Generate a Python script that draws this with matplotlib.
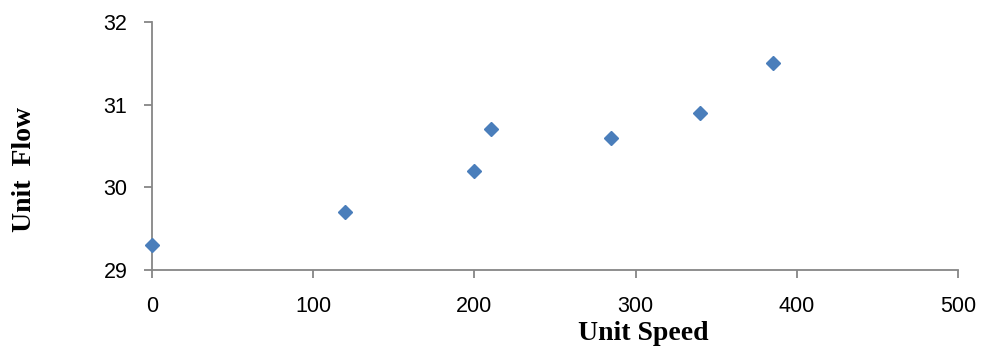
import matplotlib
matplotlib.use("Agg")
import matplotlib.pyplot as plt

# Measured unit speed vs unit flow
unit_speed = [0, 120, 200, 210, 285, 340, 385]
unit_flow = [29.3, 29.7, 30.2, 30.7, 30.6, 30.9, 31.5]

x_ticks = [0, 100, 200, 300, 400, 500]
y_ticks = [29, 30, 31, 32]

fig = plt.figure(figsize=(9.84, 3.54), dpi=100)
ax = fig.add_axes([152 / 984, 84 / 354, 806 / 984, 248 / 354])

ax.plot(unit_speed, unit_flow, linestyle="none", marker="D", markersize=7.6,
        color="#4A7EBB", markeredgecolor="#4A7EBB", clip_on=False, zorder=3)

ax.set_xlim(0, 500)
ax.set_ylim(29, 32)
ax.set_xticks(x_ticks)
ax.set_yticks(y_ticks)

axis_grey = "#868686"
for side in ("top", "right"):
    ax.spines[side].set_visible(False)
for side in ("left", "bottom"):
    ax.spines[side].set_color(axis_grey)
    ax.spines[side].set_linewidth(1.3)

tick_family = ["Liberation Sans", "DejaVu Sans"]
ax.tick_params(axis="both", direction="out", length=6, width=1.3, color=axis_grey,
               labelcolor="black")
ax.tick_params(axis="x", pad=12.5)
ax.tick_params(axis="y", pad=11.7)
for lbl in ax.get_xticklabels() + ax.get_yticklabels():
    lbl.set_fontfamily(tick_family)
    lbl.set_fontsize(15.5)

label_font = dict(family=["Liberation Serif", "DejaVu Serif"], fontsize=20, fontweight="bold")
fig.text(643 / 984, 1 - 333 / 354, "Unit Speed", ha="center", va="center", **label_font)
fig.text(25 / 984, 1 - 169 / 354, "Unit  Flow", ha="center", va="center", rotation=90,
         **label_font)

fig.savefig("out.png", dpi=100)
